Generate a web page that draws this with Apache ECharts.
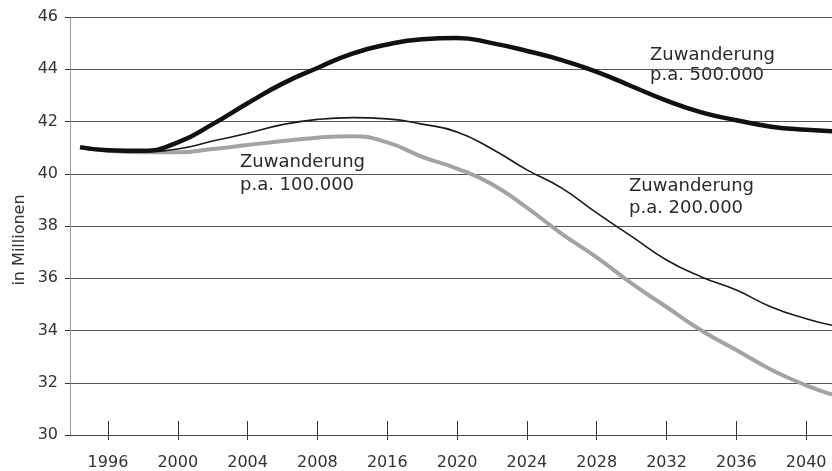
<!DOCTYPE html>
<html>
<head>
    <meta charset="utf-8">
    <title>Zuwanderung</title>
    <script src="https://cdn.jsdelivr.net/npm/echarts@6/dist/echarts.min.js"></script>
</head>
<body style="margin: 0; padding: 0; background: #fff;">
<div id="main" style="width: 832px; height: 471px;"></div>
<script type="text/javascript">
    // Achsenbeschriftung (gleichmaessige Abstaende, so wie im Original)
    var tickLabels = ['1996', '2000', '2004', '2008', '2016', '2020', '2024', '2028', '2032', '2036', '2040'];
    var tickPos = [0, 1, 2, 3, 4, 5, 6, 7, 8, 9, 10];

    // x-Position in Tick-Schritten (0 = erster Tick)
    var xPos = [-0.4, 0, 0.5, 1, 1.5, 2, 2.5, 3, 3.5, 4, 4.5, 5, 5.5, 6, 6.5, 7, 7.5, 8, 8.5, 9, 9.5, 10, 10.37];

    // Bevoelkerung in Millionen
    var zuw500 = [41.02, 40.9, 40.88, 41.2, 41.9, 42.7, 43.45, 44.05, 44.6, 44.95, 45.15, 45.2, 45.0, 44.7, 44.35, 43.9, 43.35, 42.8, 42.35, 42.05, 41.8, 41.68, 41.63];
    var zuw200 = [41.02, 40.9, 40.85, 40.95, 41.25, 41.55, 41.88, 42.08, 42.15, 42.1, 41.9, 41.6, 40.95, 40.15, 39.45, 38.5, 37.6, 36.7, 36.05, 35.55, 34.9, 34.45, 34.2];
    var zuw100 = [41.0, 40.88, 40.82, 40.82, 40.95, 41.1, 41.25, 41.38, 41.44, 41.2, 40.65, 40.2, 39.6, 38.7, 37.7, 36.8, 35.8, 34.9, 34.0, 33.25, 32.5, 31.9, 31.55];

    function pairs(vals) {
        return vals.map(function (v, i) { return [xPos[i], v]; });
    }

    var myChart = echarts.init(document.getElementById('main'));

    var labelFont = '18px "DejaVu Sans"';

    var option = {
        animation: false,
        grid: { left: 70, right: 0, top: 17, bottom: 32 },
        xAxis: [{
            type: 'value',
            min: -0.544,
            max: 10.37,
            axisLine: { show: true, onZero: false, lineStyle: { color: '#444', width: 1 } },
            axisTick: { show: true, inside: true, length: 14, customValues: tickPos, lineStyle: { color: '#333' } },
            axisLabel: {
                customValues: tickPos,
                margin: 20,
                color: '#333',
                fontFamily: 'DejaVu Sans',
                fontSize: 16,
                formatter: function (v) { return tickLabels[Math.round(v)]; }
            },
            splitLine: { show: false }
        }, {
            type: 'value',
            position: 'bottom',
            min: -0.544,
            max: 10.37,
            axisLine: { show: false, onZero: false },
            axisTick: { show: true, length: 5, customValues: tickPos, lineStyle: { color: '#333' } },
            axisLabel: { show: false },
            splitLine: { show: false }
        }],
        yAxis: {
            type: 'value',
            min: 30,
            max: 46,
            interval: 2,
            axisLine: { show: true, onZero: false, lineStyle: { color: '#888', type: 'dotted' } },
            axisTick: { show: true, length: 5, lineStyle: { color: '#333' } },
            axisLabel: { color: '#333', fontFamily: 'DejaVu Sans', fontSize: 16, margin: 12 },
            splitLine: { show: true, lineStyle: { color: '#555', width: 1 } }
        },
        series: [{
            name: 'Zuwanderung p.a. 100.000',
            type: 'line',
            smooth: true,
            symbol: 'none',
            data: pairs(zuw100),
            lineStyle: { color: '#a3a3a3', width: 4 },
            z: 3
        }, {
            name: 'Zuwanderung p.a. 200.000',
            type: 'line',
            smooth: true,
            symbol: 'none',
            data: pairs(zuw200),
            lineStyle: { color: '#1a1a1a', width: 1.6 },
            z: 4
        }, {
            name: 'Zuwanderung p.a. 500.000',
            type: 'line',
            smooth: true,
            symbol: 'none',
            data: pairs(zuw500),
            lineStyle: { color: '#111', width: 4.5 },
            z: 5
        }],
        graphic: [{
            // Achsentitel, gedreht
            type: 'text', x: 20, y: 240, rotation: Math.PI / 2,
            style: { text: 'in Millionen', font: '16px "DejaVu Sans"', fill: '#333', textAlign: 'center', textVerticalAlign: 'middle' }
        }, {
            type: 'text', left: 650, top: 45,
            style: { text: 'Zuwanderung\np.a. 500.000', font: labelFont, fill: '#2a2a2a', lineHeight: 20 }
        }, {
            type: 'text', left: 240, top: 151,
            style: { text: 'Zuwanderung\np.a. 100.000', font: labelFont, fill: '#2a2a2a', lineHeight: 23 }
        }, {
            type: 'text', left: 629, top: 175,
            style: { text: 'Zuwanderung\np.a. 200.000', font: labelFont, fill: '#2a2a2a', lineHeight: 22 }
        }]
    };

    myChart.setOption(option);
</script>
</body>
</html>
